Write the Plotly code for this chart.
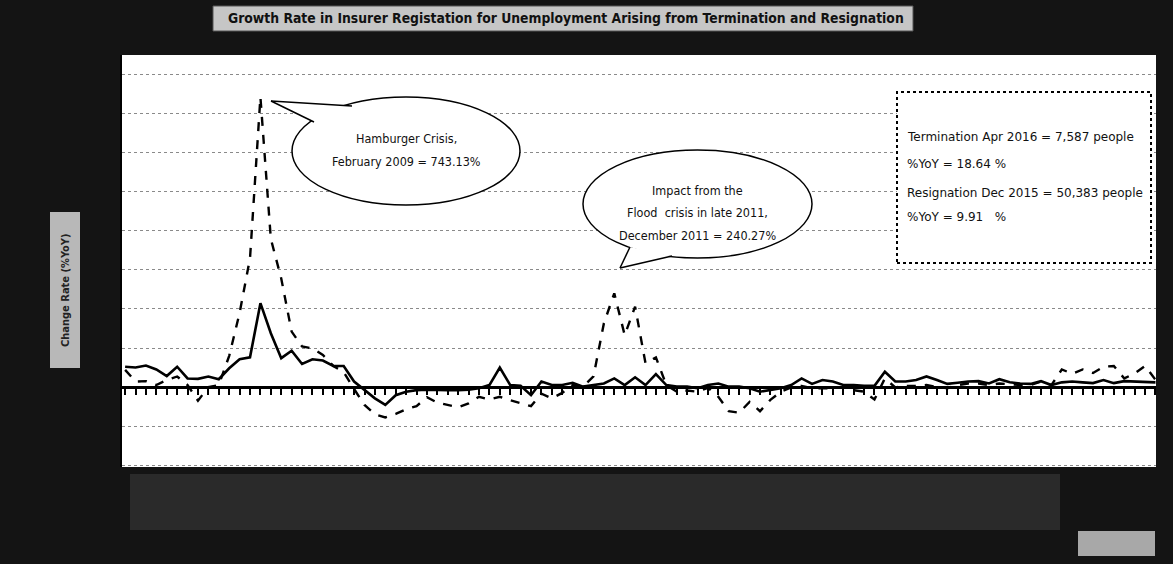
import pandas as pd
import plotly.graph_objects as go

# ---------------- data ----------------
months = [d.strftime("%b %Y") for d in pd.date_range("2008-01-01", periods=100, freq="MS")]

termination_yoy = [
    44, 14, 15, 5, 18, 27, 5, -35, 0, 5,
    80, 190, 330, 743.13, 380, 278, 142, 104, 99, 82,
    54, 38, -5, -46, -70, -78, -69, -57, -49, -26,
    -40, -46, -52, -42, -25, -32, -25, -34, -42, -49,
    -17, -29, -15, 5, 1, 27, 163, 240.27, 133, 206,
    61, 76, 5, -12, -9, -12, -2, -25, -62, -66,
    -38, -62, -33, -12, -1, 3, -3, -3, -3, -1,
    -8, -12, -32, 22, -1, 3, 3, 5, 0, -3,
    5, 9, 9, 5, 9, 7, 5, 5, 14, 5,
    45, 34, 45, 36, 52, 54, 22, 35, 54, 18.64,
]

resignation_yoy = [
    52, 50, 55, 45, 28, 52, 22, 21, 27, 20,
    48, 71, 76, 215, 138, 74, 93, 59, 71, 68,
    54, 54, 14, -8, -29, -46, -21, -12, -8, -7,
    -8, -8, -8, -7, -3, 5, 50, 5, 3, -21,
    14, 5, 5, 11, 1, 5, 9, 22, 5, 25,
    5, 33, 5, 1, 1, -3, 5, 9, 1, 1,
    -3, -12, -8, -3, 5, 22, 8, 18, 14, 5,
    5, 3, 3, 39, 14, 14, 18, 27, 18, 8,
    11, 14, 15, 9, 20, 12, 9, 8, 15, 5,
    12, 14, 12, 10, 18, 9.91, 15, 14, 14, 12,
]

title_text = "Growth Rate in Insurer Registation for Unemployment Arising from Termination and Resignation"
ytitle_text = "Change Rate (%YoY)"
callout1_lines = ["Hamburger Crisis,", "February 2009 = 743.13%"]
callout2_lines = ["Impact from the", "Flood  crisis in late 2011,", "December 2011 = 240.27%"]
info_lines = [
    "Termination Apr 2016 = 7,587 people",
    "%YoY = 18.64 %",
    "Resignation Dec 2015 = 50,383 people",
    "%YoY = 9.91   %",
]

# ---------------- layout geometry (pixels) ----------------
W, H = 1173, 564
L, R, T, B = 122, 1156, 55, 467
YMIN, YMAX = -205, 851


def px(x):
    return (x - L) / (R - L)


def py(y):
    return (B - y) / (B - T)


FONT_C = "DejaVu Sans Condensed, Liberation Sans, sans-serif"
FONT_R = "DejaVu Sans, Liberation Sans, sans-serif"

fig = go.Figure()
fig.add_trace(go.Scatter(
    x=months, y=resignation_yoy, mode="lines", name="Resignation",
    line=dict(color="black", width=2.6),
))
fig.add_trace(go.Scatter(
    x=months, y=termination_yoy, mode="lines", name="Termination",
    line=dict(color="black", width=2.4, dash="dash"),
))

zero_pos = (0 - YMIN) / (YMAX - YMIN)

fig.update_layout(
    width=W, height=H, autosize=False,
    margin=dict(l=L, r=W - R, t=T, b=H - B),
    paper_bgcolor="#141414", plot_bgcolor="white",
    showlegend=False,
    xaxis=dict(
        type="category", range=[-0.3, 99.05],
        anchor="free", position=zero_pos,
        showline=True, linecolor="black", linewidth=3,
        ticks="outside", ticklen=6, tickwidth=2, tickcolor="black",
        tickmode="array", tickvals=months, showticklabels=False,
        showgrid=False, zeroline=False,
    ),
    yaxis=dict(
        range=[YMIN, YMAX], tickmode="linear", tick0=0, dtick=100,
        showticklabels=False, ticks="",
        showgrid=True, gridcolor="#8a8a8a", gridwidth=1, griddash="dot",
        zeroline=False, showline=True, linecolor="black", linewidth=2,
    ),
)

shapes = []
annotations = []

# background speckle band
shapes.append(dict(type="rect", xref="paper", yref="paper", layer="below",
                   x0=px(130), x1=px(1060), y0=py(530), y1=py(474),
                   fillcolor="#2a2a2a", line=dict(width=0)))

# title box
shapes.append(dict(type="rect", xref="paper", yref="paper",
                   x0=px(213), x1=px(913), y0=py(31), y1=py(6),
                   fillcolor="#c6c6c6", line=dict(color="#555", width=1)))
annotations.append(dict(xref="paper", yref="paper", x=px(566), y=py(18),
                        text="<b>" + title_text + "</b>", showarrow=False,
                        font=dict(family=FONT_C, size=13.8, color="#111"),
                        xanchor="center", yanchor="middle"))

# y-axis title box
shapes.append(dict(type="rect", xref="paper", yref="paper",
                   x0=px(50), x1=px(80), y0=py(368), y1=py(212),
                   fillcolor="#b8b8b8", line=dict(width=0)))
annotations.append(dict(xref="paper", yref="paper", x=px(65), y=py(290),
                        text="<b>" + ytitle_text + "</b>", showarrow=False, textangle=-90,
                        font=dict(family=FONT_C, size=11, color="#222"),
                        xanchor="center", yanchor="middle"))

# bottom-right small box
shapes.append(dict(type="rect", xref="paper", yref="paper",
                   x0=px(1078), x1=px(1155), y0=py(556), y1=py(531),
                   fillcolor="#a8a8a8", line=dict(width=0)))


def callout(ex0, ex1, ey0, ey1, tip, b1, b2, lines, text_y, line_gap):
    shapes.append(dict(type="circle", xref="paper", yref="paper",
                       x0=px(ex0), x1=px(ex1), y0=py(ey1), y1=py(ey0),
                       fillcolor="white", line=dict(color="black", width=1.5)))
    path = "M {} {} L {} {} L {} {} Z".format(px(b1[0]), py(b1[1]), px(tip[0]), py(tip[1]),
                                              px(b2[0]), py(b2[1]))
    shapes.append(dict(type="path", xref="paper", yref="paper", path=path,
                       fillcolor="white", line=dict(width=0)))
    for b in (b1, b2):
        shapes.append(dict(type="line", xref="paper", yref="paper",
                           x0=px(tip[0]), y0=py(tip[1]), x1=px(b[0]), y1=py(b[1]),
                           line=dict(color="black", width=1.5)))
    cx = (ex0 + ex1) / 2
    for k, t in enumerate(lines):
        annotations.append(dict(xref="paper", yref="paper", x=px(cx), y=py(text_y + k * line_gap),
                                text=t, showarrow=False,
                                font=dict(family=FONT_C, size=12.5, color="#111"),
                                xanchor="center", yanchor="middle"))


callout(292, 520, 97, 205, tip=(271, 101), b1=(314, 122), b2=(352, 106),
        lines=callout1_lines, text_y=138, line_gap=23)
callout(583, 812, 150, 258, tip=(620, 268), b1=(630, 247), b2=(672, 256),
        lines=callout2_lines, text_y=190, line_gap=22.5)

# info box
shapes.append(dict(type="rect", xref="paper", yref="paper",
                   x0=px(897), x1=px(1151), y0=py(263), y1=py(92),
                   fillcolor="white", line=dict(color="black", width=2, dash="dot")))
for t, yy in zip(info_lines, [137, 164, 193, 217]):
    annotations.append(dict(xref="paper", yref="paper", x=px(905), y=py(yy),
                            text=t, showarrow=False,
                            font=dict(family=FONT_R, size=12, color="#111"),
                            xanchor="left", yanchor="middle"))

fig.update_layout(shapes=shapes, annotations=annotations)
fig.write_html("out.html")
